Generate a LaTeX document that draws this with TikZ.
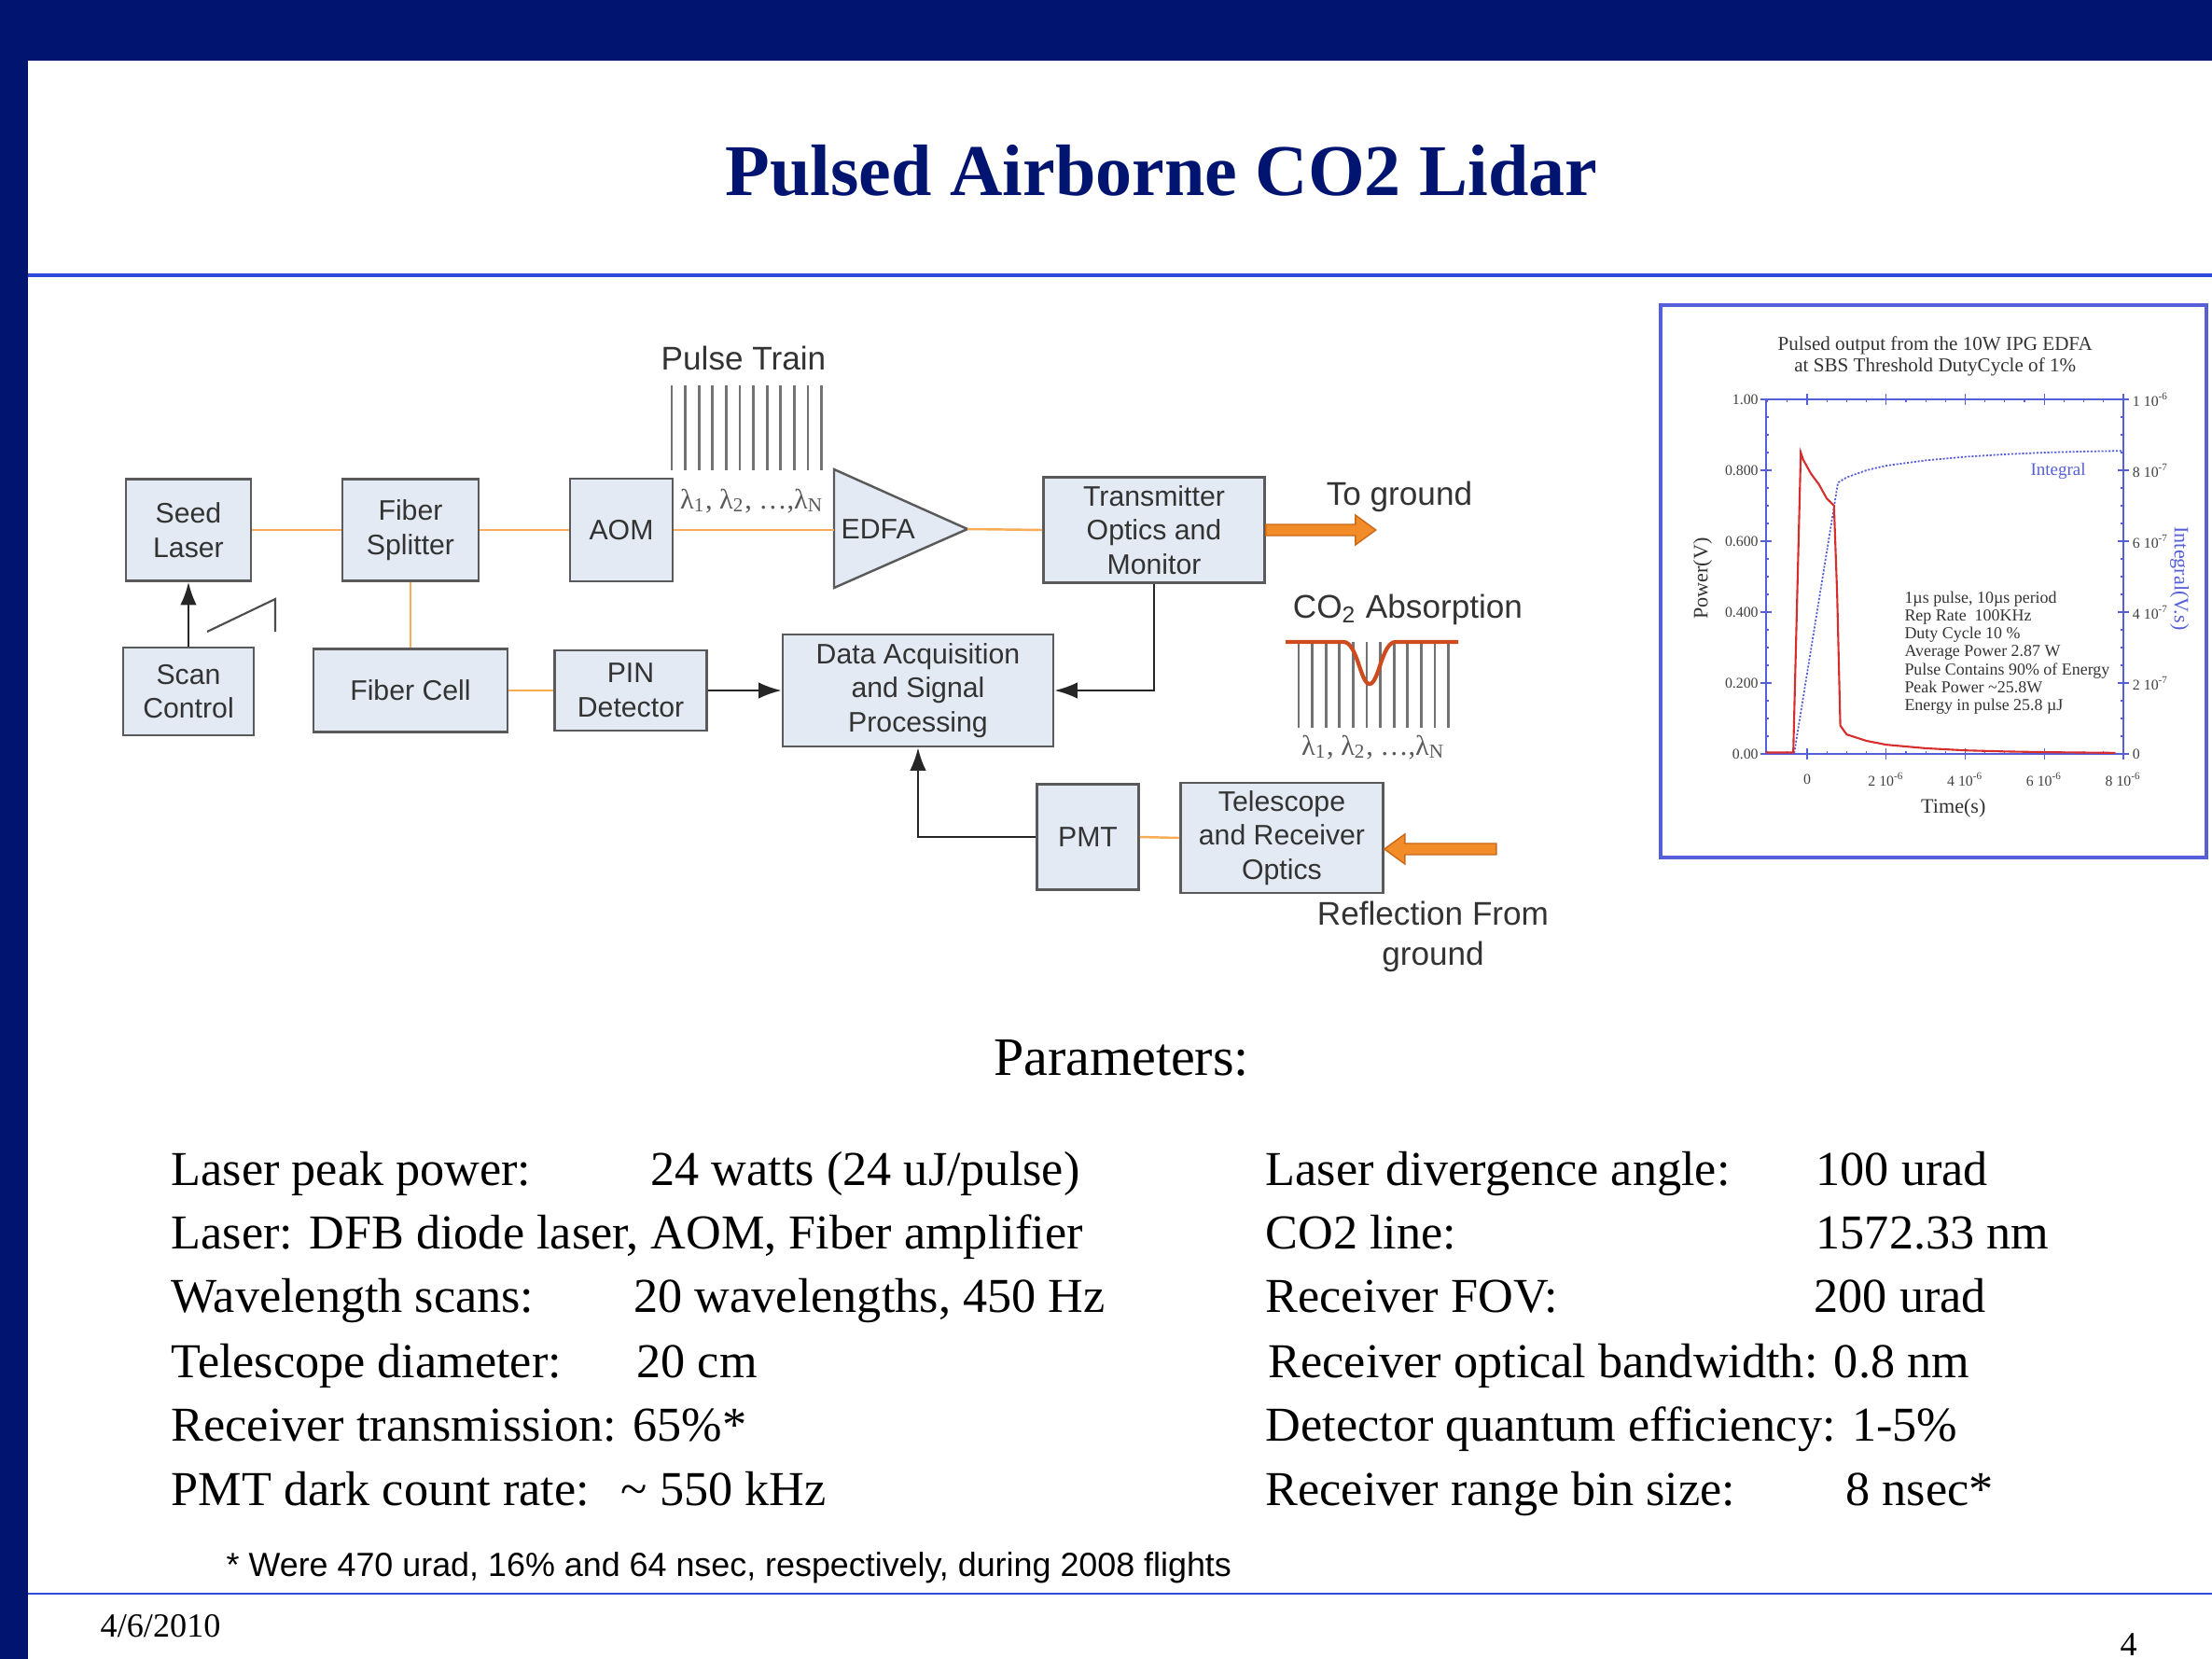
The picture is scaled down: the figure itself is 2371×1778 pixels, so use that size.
\documentclass[tikz,border=0pt]{standalone}
\usepackage{fontspec}
\setmainfont{Liberation Serif}
\setsansfont{Liberation Sans}
\usetikzlibrary{arrows.meta}

\definecolor{slidenavy}{RGB}{0,20,112}
\definecolor{rulebl}{RGB}{45,75,215}
\definecolor{boxfill}{RGB}{228,234,244}
\definecolor{boxline}{RGB}{90,90,90}
\definecolor{fiberor}{RGB}{247,172,85}
\definecolor{beamor}{RGB}{242,140,40}
\definecolor{beamedge}{RGB}{200,105,25}
\definecolor{plotbl}{RGB}{85,95,215}
\definecolor{curvered}{RGB}{215,45,45}
\definecolor{dipred}{RGB}{205,75,30}

\newcommand{\lamrow}{λ\textsubscript{1}, λ\textsubscript{2}, …,λ\textsubscript{N}}

\tikzset{
  blk/.style={draw=boxline, fill=boxfill, line width=0.7pt, inner sep=0pt, align=center,
    text=black!80, font=\sffamily\fontsize{8.6}{10.4}\selectfont},
  lbl/.style={text=black!80, font=\sffamily\fontsize{10}{12}\selectfont, align=center},
  lam/.style={text=black!65, inner sep=0pt, font=\fontsize{8.6}{10}\selectfont},
  fiber/.style={fiberor, line width=0.7pt},
  sig/.style={black!85, line width=0.7pt, -{Latex[length=7pt,width=5pt]}},
  pulse/.style={black!55, line width=0.75pt},
  beam/.style={draw=beamedge, fill=beamor, line width=0.4pt},
  par/.style={anchor=base west, inner sep=0pt, font=\fontsize{14.85}{17}\selectfont},
  ticklab/.style={inner sep=0pt, text=black!75, font=\fontsize{4.5}{5}\selectfont},
}

\begin{document}
\begin{tikzpicture}[x=0.01cm,y=-0.01cm]
\useasboundingbox (0,0) rectangle (2371,1778);

% slide frame
\fill[slidenavy] (0,0) rectangle (2371,65);
\fill[slidenavy] (0,0) rectangle (30,1778);
\draw[rulebl, line width=1.2pt] (30,295) -- (2371,295);
\draw[rulebl, line width=0.8pt] (30,1708) -- (2371,1708);
\node[anchor=base, text=slidenavy, font=\bfseries\fontsize{22.2}{26}\selectfont] (title) at (1245,209) {Pulsed Airborne CO2 Lidar};

% transmit chain
\node[blk, minimum width=1.34cm, minimum height=1.09cm] (seed) at (202,568) {Seed\\Laser};
\node[blk, minimum width=1.46cm, minimum height=1.09cm] (split) at (440,568) {Fiber\\Splitter};
\node[blk, minimum width=1.10cm, minimum height=1.10cm] (aom) at (666,568) {AOM};
\fill[boxfill] (894,503) -- (1037,567) -- (894,630) -- cycle;
\draw[boxline, line width=0.7pt] (894,503) -- (1037,567) -- (894,630) -- cycle;
\coordinate (edfain) at (894,568);
\coordinate (edfaout) at (1037,567);
\node[anchor=west, inner sep=0pt, text=black!80, font=\sffamily\fontsize{8.6}{10.4}\selectfont] (edfa) at (901,567) {EDFA};
\node[blk, minimum width=2.37cm, minimum height=1.13cm] (tx) at (1237,568) {Transmitter\\Optics and\\Monitor};

% reference and receive chain
\node[blk, minimum width=1.40cm, minimum height=0.94cm] (scan) at (202,741) {Scan\\Control};
\node[blk, minimum width=2.08cm, minimum height=0.89cm] (cell) at (440,740) {Fiber Cell};
\node[blk, minimum width=1.63cm, minimum height=0.86cm] (pin) at (676,740) {PIN\\Detector};
\node[blk, minimum width=2.90cm, minimum height=1.20cm] (daq) at (984,740) {Data Acquisition\\and Signal\\Processing};
\node[blk, minimum width=1.09cm, minimum height=1.13cm] (pmt) at (1166,897) {PMT};
\node[blk, minimum width=2.17cm, minimum height=1.18cm] (tele) at (1374,898) {Telescope\\and Receiver\\Optics};

\draw[fiber] (seed.east) -- (split.west);
\draw[fiber] (split.east) -- (aom.west);
\draw[fiber] (aom.east) -- (edfain);
\draw[fiber] (edfaout) -- (tx.west);
\draw[fiber] (split.south) -- (cell.north);
\draw[fiber] (cell.east) -- (pin.west);
\draw[fiber] (pmt.east) -- (tele.west);

\draw[sig] (scan.north) -- (seed.south);
\draw[sig] (pin.east) -- (daq.west);
\draw[sig] (tx.south) |- (daq.east);
\draw[sig] (pmt.west) -| (daq.south);

% scan ramp
\draw[black!70, line width=0.6pt] (222,677) -- (295,642) -- (295,677);

% pulse train
\foreach \i in {0,...,11}
  \draw[pulse] ({720+14.6*\i},413) -- ++(0,91);
\node[lbl] (pulsetxt) at (797,384) {Pulse Train};
\node[lam] (lamtx) at (806,537) {\lamrow};

% beams
\draw[beam] (tx.east) ++(0,-6) -- ++(96,0) -- ++(0,-10) -- ++(22,16) -- ++(-22,16) -- ++(0,-10) -- ++(-96,0) -- cycle;
\node[lbl] (toground) at (1500,532) {To ground};
\draw[beam] ([yshift=-3.4pt]tele.east) -- ++(22,-16) -- ++(0,10) -- ++(98,0) -- ++(0,12) -- ++(-98,0) -- ++(0,10) -- cycle;
\node[lbl, font=\sffamily\fontsize{10}{12.2}\selectfont] (refl) at (1536,1004) {Reflection From\\ground};

% absorption
\foreach \i in {0,...,11}
  \draw[pulse] ({1392+14.6*\i},688) -- ++(0,92);
\draw[dipred, line width=1.2pt] (1378,688) -- (1440,688)
  .. controls (1455,688) and (1458,733) .. (1468,733)
  .. controls (1478,733) and (1481,688) .. (1496,688) -- (1563,688);
\node[lbl] (co2) at (1509,653) {CO\textsubscript{2} Absorption};
\node[lam] (lamrx) at (1472,801) {\lamrow};

% EDFA output plot
\draw[plotbl, line width=0.9pt] (1780,327) rectangle (2365,919);
\begin{scope}[shift={(1937,808)},xscale=42.37,yscale=-380]
  \draw[plotbl, line width=0.4pt] (-1.04,0) rectangle (8,1);
  \foreach \v in {0,0.05,...,1.01} {
    \draw[plotbl, line width=0.35pt] (-1.04,\v) -- ++(0.07,0);
    \draw[plotbl, line width=0.35pt] (8,\v) -- ++(-0.07,0);
  }
  \foreach \v in {0,0.2,...,1.01} {
    \draw[plotbl, line width=0.4pt] (-1.18,\v) -- (-0.9,\v);
    \draw[plotbl, line width=0.4pt] (7.86,\v) -- (8.14,\v);
  }
  \foreach \t in {-1,-0.5,...,8.01} {
    \draw[plotbl, line width=0.35pt] (\t,0) -- ++(0,0.008);
    \draw[plotbl, line width=0.35pt] (\t,1) -- ++(0,-0.008);
  }
  \foreach \t in {0,2,...,8} {
    \draw[plotbl, line width=0.4pt] (\t,-0.016) -- (\t,0.016);
    \draw[plotbl, line width=0.4pt] (\t,0.984) -- (\t,1.016);
  }
  % curves
  \draw[plotbl, line width=0.5pt, dash pattern=on 0.6pt off 0.5pt]
    (-1.04,0) -- (-0.33,0) -- (0.78,0.765) -- (1,0.78) -- (1.5,0.8) -- (2,0.813)
    -- (3,0.828) -- (4,0.838) -- (5,0.845) -- (6,0.85) -- (7,0.853) -- (8,0.855);
  \draw[curvered, line width=0.6pt]
    (-1.04,0.004) -- (-0.35,0.004) -- (-0.16,0.85) -- (-0.1,0.83) -- (0.1,0.79)
    -- (0.3,0.76) -- (0.5,0.72) -- (0.68,0.70) -- (0.76,0.45) -- (0.84,0.08)
    -- (1,0.055) -- (1.5,0.037) -- (2,0.026) -- (3,0.016) -- (4,0.01)
    -- (5,0.007) -- (6,0.005) -- (7.8,0.003);
  % labels
  \foreach \v/\lab [count=\k] in {1/1.00,0.8/0.800,0.6/0.600,0.4/0.400,0.2/0.200,0/0.00}
    \node[ticklab, anchor=east] (ylab\k) at (-1.22,\v) {\lab};
  \foreach \v/\lab [count=\k] in {1/{1 10\textsuperscript{-6}},0.8/{8 10\textsuperscript{-7}},0.6/{6 10\textsuperscript{-7}},0.4/{4 10\textsuperscript{-7}},0.2/{2 10\textsuperscript{-7}},0/0}
    \node[ticklab, anchor=west] (rlab\k) at (8.22,\v) {\lab};
  \foreach \t/\lab [count=\k] in {0/0,2/{2 10\textsuperscript{-6}},4/{4 10\textsuperscript{-6}},6/{6 10\textsuperscript{-6}},8/{8 10\textsuperscript{-6}}}
    \node[ticklab] (xlab\k) at (\t,-0.071) {\lab};
  \node[text=black!80, font=\fontsize{6.3}{7}\selectfont] (xname) at (3.7,-0.153) {Time(s)};
  \node[rotate=90, text=black!80, font=\fontsize{6.3}{7}\selectfont] (yname) at (-2.64,0.495) {Power(V)};
  \node[rotate=-90, text=plotbl, font=\fontsize{6.3}{7}\selectfont] (iname) at (9.42,0.495) {Integral(V.s)};
  \node[align=center, text=black!80, font=\fontsize{6}{6.5}\selectfont] (ptitle) at (3.24,1.122) {Pulsed output from the 10W IPG EDFA\\at SBS Threshold DutyCycle of 1\%};
  \node[text=plotbl, font=\fontsize{5.4}{6}\selectfont] (intlab) at (6.35,0.797) {Integral};
  \node[anchor=north west, inner sep=0pt, align=left, text=black!80, font=\fontsize{5.1}{5.45}\selectfont] (info) at (2.45,0.46)
    {1µs pulse, 10µs period\\Rep Rate\ \ 100KHz\\Duty Cycle 10 \%\\Average Power 2.87 W\\Pulse Contains 90\% of Energy\\Peak Power \textasciitilde25.8W\\Energy in pulse 25.8 µJ};
\end{scope}

% parameters
\node[anchor=base, inner sep=0pt, font=\fontsize{16.5}{19}\selectfont] (partitle) at (1202,1152) {Parameters:};
\node[par] (ppow) at (183,1270) {Laser peak power:};
\node[par] (ppowv) at (697,1270) {24 watts (24 uJ/pulse)};
\node[par] (plaser) at (183,1338) {Laser: DFB diode laser, AOM, Fiber amplifier};
\node[par] (pscan) at (183,1406) {Wavelength scans:};
\node[par] (pscanv) at (679,1406) {20 wavelengths, 450 Hz};
\node[par] (ptel) at (183,1476) {Telescope diameter:};
\node[par] (ptelv) at (682,1476) {20 cm};
\node[par] (ptrans) at (183,1544) {Receiver transmission: 65\%*};
\node[par] (pdark) at (183,1613) {PMT dark count rate:};
\node[par] (pdarkv) at (665,1613) {\textasciitilde\ 550 kHz};
\node[par] (pdiv) at (1356,1270) {Laser divergence angle:};
\node[par] (pdivv) at (1946,1270) {100 urad};
\node[par] (pline) at (1356,1338) {CO2 line:};
\node[par] (plinev) at (1946,1338) {1572.33 nm};
\node[par] (pfov) at (1356,1406) {Receiver FOV:};
\node[par] (pfovv) at (1944,1406) {200 urad};
\node[par] (pband) at (1359,1476) {Receiver optical bandwidth: 0.8 nm};
\node[par] (pqe) at (1356,1544) {Detector quantum efficiency: 1-5\%};
\node[par] (pbin) at (1356,1613) {Receiver range bin size:};
\node[par] (pbinv) at (1978,1613) {8 nsec*};

% footer
\node[anchor=base west, inner sep=0pt, font=\sffamily\fontsize{10.2}{12}\selectfont] (foot) at (242,1689) {* Were 470 urad, 16\% and 64 nsec, respectively, during 2008 flights};
\node[anchor=base west, inner sep=0pt, font=\fontsize{10.3}{12}\selectfont] (date) at (107,1754) {4/6/2010};
\node[anchor=base west, inner sep=0pt, font=\fontsize{10.3}{12}\selectfont] (pageno) at (2272,1774) {4};
\end{tikzpicture}
\end{document}
